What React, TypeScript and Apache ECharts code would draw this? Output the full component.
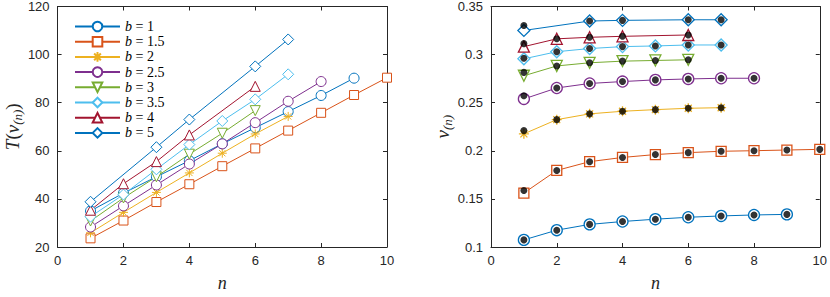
import React, { useEffect, useRef } from 'react';
import * as echarts from 'echarts';

// b values (legend labels)
const bLabels = ['1', '1.5', '2', '2.5', '3', '3.5', '4', '5'];

// n values per series
const nB1 = [1, 2, 3, 4, 5, 6, 7, 8, 9];
const nB15 = [1, 2, 3, 4, 5, 6, 7, 8, 9, 10];
const nB2 = [1, 2, 3, 4, 5, 6, 7];
const nB25 = [1, 2, 3, 4, 5, 6, 7, 8];
const nB3 = [1, 2, 3, 4, 5, 6];
const nB35 = [1, 2, 3, 4, 5, 6, 7];
const nB4 = [1, 2, 3, 4, 6];
const nB5 = [1, 3, 4, 6, 7];

// Left panel: T(v_(n))
const T_b1 = [35, 42.4, 49.2, 55.9, 62.9, 69.6, 76.3, 83, 90.2];
const T_b15 = [23.6, 31, 38.7, 46.1, 53.6, 61, 68.4, 75.8, 83.2, 90.4];
const T_b2 = [25.9, 34.4, 42.7, 50.8, 59, 67, 74.3];
const T_b25 = [28.3, 37.1, 45.8, 54.5, 62.9, 71.7, 80.6, 88.8];
const T_b3 = [30.8, 40.4, 49.2, 58.6, 67.3, 76.7];
const T_b35 = [32.6, 41.8, 52.3, 62.6, 72.4, 81.4, 91.8];
const T_b4 = [35.3, 46.3, 55.5, 66.6, 86.8];
const T_b5 = [38.8, 61.5, 73, 95.1, 106.3];

// Right panel: v_(n) (coloured markers)
const v_b1 = [0.1074, 0.1175, 0.1235, 0.1265, 0.1289, 0.1309, 0.1323, 0.1333, 0.1339];
const v_b15 = [0.1561, 0.1796, 0.1887, 0.1931, 0.1961, 0.1981, 0.1995, 0.2001, 0.2008, 0.2015];
const v_b2 = [0.2176, 0.2324, 0.2384, 0.2411, 0.2428, 0.2442, 0.2448];
const v_b25 = [0.2539, 0.2653, 0.27, 0.272, 0.2737, 0.2747, 0.2754, 0.2754];
const v_b3 = [0.278, 0.2882, 0.2915, 0.2932, 0.2939, 0.2946];
const v_b35 = [0.2956, 0.303, 0.3063, 0.3083, 0.309, 0.31, 0.31];
const v_b4 = [0.3083, 0.3164, 0.318, 0.319, 0.3204];
const v_b5 = [0.3251, 0.3349, 0.3356, 0.3362, 0.3362];

// Black dots: first point (n=1) differs; others coincide with markers
const dotFirst = [0.1074, 0.1588, 0.221, 0.2573, 0.2815, 0.2962, 0.3114, 0.3302];

const xTicks = [0, 2, 4, 6, 8, 10];
const yTicksLeft = [20, 40, 60, 80, 100, 120];
const yTicksRight = [0.1, 0.15, 0.2, 0.25, 0.3, 0.35];

const colors = ['#0072BD', '#D95319', '#EDB120', '#7E2F8E', '#77AC30', '#4DBEEE', '#A2142F', '#0072BD'];
const symbols = [
  'circle',
  'rect',
  'path://M5,0L5,10M0,5L10,5M1.5,1.5L8.5,8.5M1.5,8.5L8.5,1.5',
  'circle',
  'path://M0,0L10,0L5,8.66Z',
  'diamond',
  'triangle',
  'diamond',
];
const sizesL = [10, 9, 9, 10, 10, 11, 10, 11];
const sizesR = [11, 10, 10, 11, 11, 12, 11, 12];

const nList = [nB1, nB15, nB2, nB25, nB3, nB35, nB4, nB5];
const TList = [T_b1, T_b15, T_b2, T_b25, T_b3, T_b35, T_b4, T_b5];
const vList = [v_b1, v_b15, v_b2, v_b25, v_b3, v_b35, v_b4, v_b5];

const axisColor = '#262626';
const tickFont = { fontFamily: 'Liberation Sans', fontSize: 13, color: axisColor };
const serif = 'Liberation Serif';

function makeX(gridIndex: number, pos: 'bottom' | 'top', showLabel: boolean, name?: string) {
  return {
    type: 'value',
    gridIndex,
    position: pos,
    min: xTicks[0],
    max: xTicks[xTicks.length - 1],
    interval: 2,
    axisLine: { show: true, onZero: false, lineStyle: { color: axisColor, width: 1 } },
    axisTick: { show: true, inside: true, length: 4, lineStyle: { color: axisColor } },
    axisLabel: { show: showLabel, margin: 7, ...tickFont },
    splitLine: { show: false },
    name: name || '',
    nameLocation: 'middle',
    nameGap: 27,
    nameTextStyle: { fontFamily: serif, fontStyle: 'italic', fontSize: 18, color: axisColor },
  };
}

function makeY(gridIndex: number, pos: 'left' | 'right', showLabel: boolean, ticks: number[], interval: number, name?: string, gap?: number) {
  return {
    type: 'value',
    gridIndex,
    position: pos,
    min: ticks[0],
    max: ticks[ticks.length - 1],
    interval,
    axisLine: { show: true, onZero: false, lineStyle: { color: axisColor, width: 1 } },
    axisTick: { show: true, inside: true, length: 4, lineStyle: { color: axisColor } },
    axisLabel: { show: showLabel, margin: 8, ...tickFont },
    splitLine: { show: false },
    name: name || '',
    nameLocation: 'middle',
    nameGap: gap || 30,
    nameRotate: 90,
    nameTextStyle: {
      color: axisColor,
      rich: {
        i: { fontFamily: serif, fontStyle: 'italic', fontSize: 19, lineHeight: 24, color: axisColor },
        r: { fontFamily: serif, fontSize: 19, lineHeight: 24, color: axisColor },
        s: { fontFamily: serif, fontStyle: 'italic', fontSize: 13, lineHeight: 24, padding: [10, 0, 0, 0], color: axisColor },
      },
    },
  };
}

export default function App() {
  const ref = useRef<HTMLDivElement>(null);
  useEffect(() => {
    if (!ref.current) return;
    const chart = echarts.init(ref.current, null, { renderer: 'svg' });
    const names = bLabels.map((b) => 'b = ' + b);
    const series: any[] = [];
    bLabels.forEach((b, i) => {
      series.push({
        type: 'line',
        name: names[i],
        xAxisIndex: 0,
        yAxisIndex: 0,
        data: nList[i].map((n, j) => [n, TList[i][j]]),
        symbol: symbols[i],
        symbolSize: sizesL[i],
        lineStyle: { color: colors[i], width: 1 },
        itemStyle: { color: '#fff', borderColor: colors[i], borderWidth: 1 },
      });
    });
    bLabels.forEach((b, i) => {
      series.push({
        type: 'line',
        name: 'r' + names[i],
        xAxisIndex: 2,
        yAxisIndex: 2,
        data: nList[i].map((n, j) => [n, vList[i][j]]),
        symbol: symbols[i],
        symbolSize: sizesR[i],
        lineStyle: { color: colors[i], width: 1 },
        itemStyle: { color: '#fff', borderColor: colors[i], borderWidth: 1.3 },
      });
    });
    bLabels.forEach((b, i) => {
      series.push({
        type: 'scatter',
        name: 'dots' + i,
        xAxisIndex: 2,
        yAxisIndex: 2,
        data: nList[i].map((n, j) => [n, j === 0 ? dotFirst[i] : vList[i][j]]),
        symbol: 'circle',
        symbolSize: 7,
        itemStyle: { color: '#000' },
        z: 5,
      });
    });

    chart.setOption({
      animation: false,
      backgroundColor: '#fff',
      grid: [
        { left: 57, right: 443, top: 6, bottom: 43 },
        { left: 491, right: 7, top: 6, bottom: 43 },
      ],
      xAxis: [
        makeX(0, 'bottom', true, 'n'),
        makeX(0, 'top', false),
        makeX(1, 'bottom', true, 'n'),
        makeX(1, 'top', false),
      ],
      yAxis: [
        makeY(0, 'left', true, yTicksLeft, 20, '{i|T}{r|(}{i|v}{s|(n)}{r|)}', 26),
        makeY(0, 'right', false, yTicksLeft, 20),
        makeY(1, 'left', true, yTicksRight, 0.05, '{i|v}{s|(n)}', 31),
        makeY(1, 'right', false, yTicksRight, 0.05),
      ],
      legend: {
        data: names,
        orient: 'vertical',
        left: 74,
        top: 19.5,
        padding: 0,
        itemWidth: 45,
        itemHeight: 12,
        itemGap: 1.2,
        formatter: (name: string) => '{i|b}{r|' + name.slice(1) + '}',
        textStyle: {
          rich: {
            i: { fontFamily: serif, fontStyle: 'italic', fontSize: 14, color: '#000' },
            r: { fontFamily: serif, fontSize: 14, color: '#000' },
          },
        },
      },
      series,
    });
    return () => chart.dispose();
  }, []);
  return <div ref={ref} style={{ width: 830, height: 297, position: 'absolute', left: 0, top: 0 }} />;
}
